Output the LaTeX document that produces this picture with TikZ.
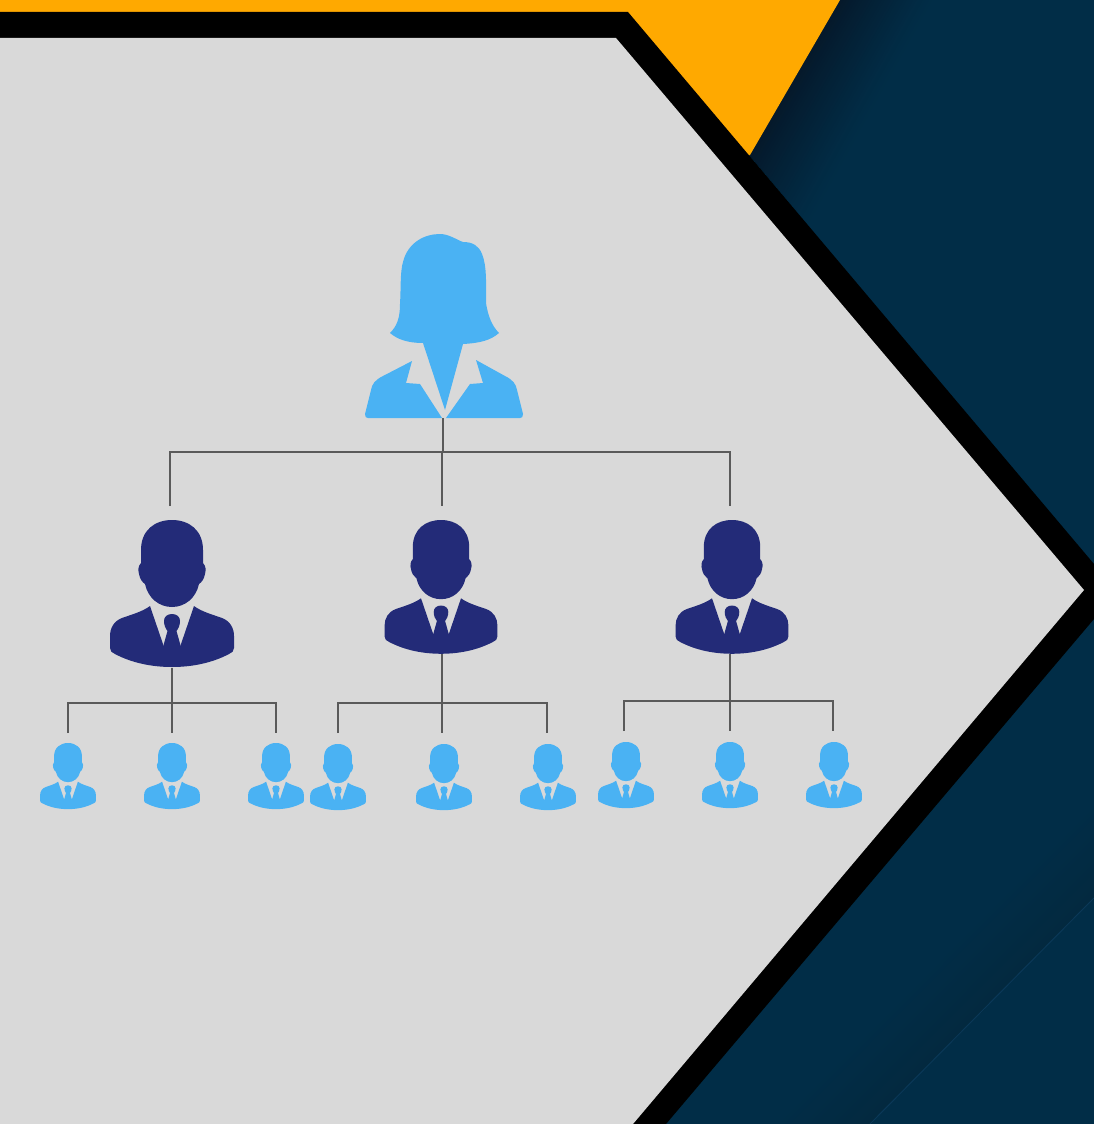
\documentclass[tikz,border=0pt]{standalone}
\definecolor{navybg}{HTML}{012D47}
\definecolor{shadowbg}{HTML}{05182A}
\definecolor{shadowlow}{HTML}{03293F}
\definecolor{faint}{HTML}{0A3858}
\definecolor{goldbar}{HTML}{FFA900}
\definecolor{panel}{HTML}{D9D9D9}
\definecolor{lightfig}{HTML}{4AB2F3}
\definecolor{darkfig}{HTML}{232B78}
\definecolor{wire}{HTML}{5A5A5A}
\tikzset{
  x=1pt,y=-1pt,
  wirepath/.style={draw=wire,line width=1.3pt,line cap=butt,line join=miter},
  man/.pic={
    \fill[pic actions] (0,0) .. controls (17,0) and (31,10) .. (31,30)
      -- (31,43) .. controls (34,46) and (34,50) .. (33,54)
      .. controls (32,59) and (30,62) .. (27,64)
      .. controls (24,78) and (13,87) .. (0,87)
      .. controls (-13,87) and (-24,78) .. (-27,64)
      .. controls (-30,62) and (-32,59) .. (-33,54)
      .. controls (-34,50) and (-34,46) .. (-31,43)
      -- (-31,30) .. controls (-31,10) and (-17,0) .. (0,0) -- cycle;
    \fill[pic actions] (22,86) .. controls (30,92) and (42,95) .. (50,98)
      .. controls (58,101) and (62,108) .. (62,116)
      -- (62,128) .. controls (62,131) and (60,133) .. (57,134)
      .. controls (40,143) and (20,147) .. (0,147)
      .. controls (-20,147) and (-40,143) .. (-57,134)
      .. controls (-60,133) and (-62,131) .. (-62,128)
      -- (-62,116) .. controls (-62,108) and (-58,101) .. (-50,98)
      .. controls (-42,95) and (-30,92) .. (-22,86)
      -- (-8,127) -- (0,133) -- (8,127) -- cycle;
    \fill[pic actions] (0,94) .. controls (5,94) and (8,97) .. (8,101)
      .. controls (8,106) and (6,109) .. (4.5,111)
      -- (9,127) -- (0,137) -- (-9,127) -- (-4.5,111)
      .. controls (-6,109) and (-8,106) .. (-8,101)
      .. controls (-8,97) and (-5,94) .. (0,94) -- cycle;
  },
  woman/.pic={
    \fill[pic actions] (-3,0) .. controls (6,0) and (14,6) .. (20,8)
      .. controls (30,8) and (36,12) .. (39,20)
      .. controls (44,32) and (43,50) .. (43,69)
      .. controls (45,82) and (49,92) .. (56,99)
      .. controls (48,106) and (38,109) .. (20,110)
      -- (2,176) -- (-20,109)
      .. controls (-36,109) and (-46,105) .. (-53,99)
      .. controls (-46,92) and (-43,84) .. (-43,70)
      .. controls (-42,55) and (-43,38) .. (-40,28)
      .. controls (-35,8) and (-18,0) .. (-3,0) -- cycle;
    \fill[pic actions] (33,126) -- (62,142) .. controls (70,146) and (73,150) .. (74,156)
      -- (80,180) .. controls (80,183) and (79,184) .. (77,184)
      -- (3,184) -- (27,150) -- (40,149) -- cycle;
    \fill[pic actions] (-31,127) -- (-60,142) .. controls (-68,146) and (-71,150) .. (-72,156)
      -- (-78,180) .. controls (-78,183) and (-77,184) .. (-75,184)
      -- (-1,184) -- (-23,150) -- (-37,149) -- cycle;
  }
}
\begin{document}
\begin{tikzpicture}
\useasboundingbox (0,0) rectangle (1094,1124);
% background
\fill[navybg] (0,0) rectangle (1094,1124);
\foreach \i in {0,...,30}{
  \pgfmathsetmacro\t{1-\i/30}
  \pgfmathsetmacro\p{100*(\i/30)^1.2}
  \fill[shadowbg!\p!navybg] (840,0) -- ({840+95*\t},0) -- ({750+60*\t},{155+71*\t}) -- (750,155) -- cycle;
}
\foreach \i in {0,...,20}{
  \pgfmathsetmacro\t{1-\i/20}
  \pgfmathsetmacro\p{100*\i/20}
  \fill[shadowlow!\p!navybg] (870,1124) -- ({870-100*\t},1124) -- (1094,{898-100*\t}) -- (1094,898) -- cycle;
}
\draw[faint,line width=1pt] (870,1124) -- (1094,898);
% frame
\fill[goldbar] (0,0) -- (840,0) -- (750,155) -- (700,155) -- (0,12) -- cycle;
\fill[black] (0,12) -- (628,12) -- (1094,564) -- (1094,619) -- (666,1124) -- (0,1124) -- cycle;
\fill[panel] (0,38) -- (616,38) -- (1084,590) -- (633,1124) -- (0,1124) -- cycle;
% ports
\coordinate (bossout) at (443,418);
\coordinate (hub) at (443,452);
\coordinate (mAin) at (170,506);
\coordinate (mBin) at (442,506);
\coordinate (mCin) at (730,506);
\coordinate (mAout) at (172,668);
\coordinate (mBout) at (442,654);
\coordinate (mCout) at (730,654);
\coordinate (hubA) at (172,703);
\coordinate (hubB) at (442,703);
\coordinate (hubC) at (730,701);
\coordinate (a1in) at (68,733);
\coordinate (a2in) at (172,733);
\coordinate (a3in) at (276,733);
\coordinate (b1in) at (338,733);
\coordinate (b2in) at (442,733);
\coordinate (b3in) at (547,733);
\coordinate (c1in) at (624,731);
\coordinate (c2in) at (730,731);
\coordinate (c3in) at (833,731);
% connectors
\draw[wirepath] (bossout) -- (hub);
\draw[wirepath] (mAin) |- (hub) -| (mCin);
\draw[wirepath] (hub -| mBin) -- (mBin);
\draw[wirepath] (mAout) -- (a2in);
\draw[wirepath] (a1in) |- (hubA) -| (a3in);
\draw[wirepath] (mBout) -- (b2in);
\draw[wirepath] (b1in) |- (hubB) -| (b3in);
\draw[wirepath] (mCout) -- (c2in);
\draw[wirepath] (c1in) |- (hubC) -| (c3in);
% people
\pic[fill=lightfig] (boss) at (443,234) {woman};
\pic[fill=darkfig] (mA) at (172,520) {man};
\pic[fill=darkfig,scale=.91] (mB) at (441,520) {man};
\pic[fill=darkfig,scale=.91] (mC) at (732,520) {man};
\pic[fill=lightfig,scale=.45] (a1) at (68,743) {man};
\pic[fill=lightfig,scale=.45] (a2) at (172,743) {man};
\pic[fill=lightfig,scale=.45] (a3) at (276,743) {man};
\pic[fill=lightfig,scale=.45] (b1) at (338,744) {man};
\pic[fill=lightfig,scale=.45] (b2) at (444,744) {man};
\pic[fill=lightfig,scale=.45] (b3) at (548,744) {man};
\pic[fill=lightfig,scale=.45] (c1) at (626,742) {man};
\pic[fill=lightfig,scale=.45] (c2) at (730,742) {man};
\pic[fill=lightfig,scale=.45] (c3) at (834,742) {man};
\end{tikzpicture}
\end{document}
